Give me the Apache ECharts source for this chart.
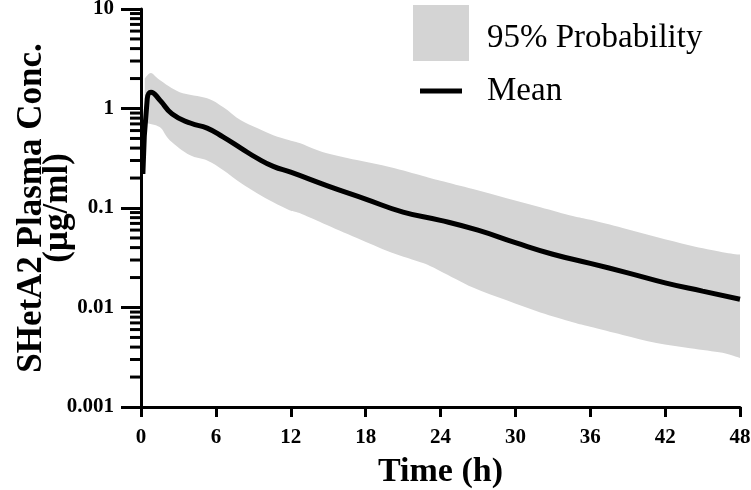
<!DOCTYPE html>
<html>
<head>
<meta charset="utf-8">
<script src="https://cdn.jsdelivr.net/npm/echarts@6/dist/echarts.min.js"></script>
<style>
html,body{margin:0;padding:0;background:#fff;}
#chart{width:751px;height:490px;}
</style>
</head>
<body>
<div id="chart"></div>
<script>
// ---- data ----
const xTicks = [0, 6, 12, 18, 24, 30, 36, 42, 48];
const yTickLabels = ['0.001', '0.01', '0.1', '1', '10'];
const yMinorTicks = [0.002,0.003,0.004,0.005,0.006,0.007,0.008,0.009,
                     0.02,0.03,0.04,0.05,0.06,0.07,0.08,0.09,
                     0.2,0.3,0.4,0.5,0.6,0.7,0.8,0.9,
                     2,3,4,5,6,7,8,9];

const meanTime = [0.15, 0.5, 0.8, 1.5, 2.5, 4.0, 5.3, 6.6, 8.0, 9.3, 10.6, 12, 15, 18, 21, 24, 27, 30, 33, 36, 39, 42, 45, 48];
const meanConc = [0.22, 1.25, 1.46, 1.22, 0.88, 0.71, 0.635, 0.515, 0.40, 0.317, 0.262, 0.229, 0.166, 0.123, 0.091, 0.0752, 0.0598, 0.0448, 0.0343, 0.0278, 0.0223, 0.0177, 0.0146, 0.0121];

const upperTime = [0.3, 0.8, 1.5, 3.1, 5.3, 6.6, 8.0, 9.3, 10.6, 11.9, 12.7, 14.6, 17.3, 20, 22.6, 24, 26.6, 29.3, 32, 34.6, 36, 38.6, 41.3, 44, 46.6, 48];
const upperConc = [2.0, 2.27, 1.93, 1.46, 1.27, 1.03, 0.76, 0.635, 0.54, 0.48, 0.45, 0.364, 0.303, 0.257, 0.21, 0.188, 0.155, 0.125, 0.102, 0.083, 0.076, 0.063, 0.051, 0.042, 0.036, 0.034];

const lowerTime = [0.3, 1.5, 2.3, 3.9, 5.3, 6.6, 8.0, 9.3, 10.6, 11.9, 12.7, 14.6, 17.3, 20, 22.6, 24, 26.6, 29.3, 32, 34.6, 36, 38.6, 41.3, 44, 46.6, 48];
const lowerConc = [0.72, 0.65, 0.48, 0.34, 0.30, 0.24, 0.178, 0.141, 0.114, 0.095, 0.089, 0.070, 0.050, 0.036, 0.028, 0.0232, 0.0159, 0.0118, 0.0089, 0.0071, 0.0064, 0.0053, 0.0044, 0.0039, 0.0035, 0.0031];

const seriesNames = ['95% Probability', 'Mean'];
const xTitle = 'Time (h)';
const yTitle = 'SHetA2 Plasma Conc.\n(µg/ml)';

// ---- chart ----
const FONT = '"Liberation Serif", "Times New Roman", serif';
const chart = echarts.init(document.getElementById('chart'), null, {renderer: 'canvas'});

const meanData = meanTime.map((t, i) => [t, meanConc[i]]);
const minorData = yMinorTicks.map(v => [0, v]);

// Catmull-Rom style smooth path segments through screen points
function smoothSegments(pts, k) {
  let d = '';
  for (let i = 0; i < pts.length - 1; i++) {
    const p0 = pts[i - 1] || pts[i];
    const p1 = pts[i];
    const p2 = pts[i + 1];
    const p3 = pts[i + 2] || p2;
    const c1x = p1[0] + (p2[0] - p0[0]) * k / 6;
    const c1y = p1[1] + (p2[1] - p0[1]) * k / 6;
    const c2x = p2[0] - (p3[0] - p1[0]) * k / 6;
    const c2y = p2[1] - (p3[1] - p1[1]) * k / 6;
    d += ' C' + c1x + ' ' + c1y + ' ' + c2x + ' ' + c2y + ' ' + p2[0] + ' ' + p2[1];
  }
  return d;
}

const option = {
  animation: false,
  backgroundColor: '#ffffff',
  grid: {left: 141, right: 11, top: 9, bottom: 83, containLabel: false, outerBoundsMode: 'none'},
  legend: [
    {
      data: [seriesNames[0]], left: 413, top: 5, padding: 0,
      icon: 'rect', itemWidth: 56, itemHeight: 56,
      formatter: function (name) { return '{s| }\n{a|' + name + '}'; },
      textStyle: {
        fontFamily: FONT, fontSize: 33, color: '#000',
        rich: {
          s: {fontSize: 1, lineHeight: 10, height: 10},
          a: {fontFamily: FONT, fontSize: 33, color: '#000', lineHeight: 38, padding: [0, 0, 0, 13]}
        }
      },
      selectedMode: false
    },
    {
      data: [seriesNames[1]], left: 420, top: 69, padding: 0,
      icon: 'rect', itemWidth: 42, itemHeight: 5,
      textStyle: {fontFamily: FONT, fontSize: 33, color: '#000', lineHeight: 36, padding: [8, 0, 0, 20]},
      selectedMode: false
    }
  ],
  xAxis: {
    type: 'value', min: xTicks[0], max: xTicks[xTicks.length - 1], interval: 6,
    name: xTitle, nameLocation: 'middle', nameGap: 46,
    nameTextStyle: {fontFamily: FONT, fontSize: 34, fontWeight: 'bold', color: '#000', lineHeight: 38},
    axisLine: {show: true, onZero: false, lineStyle: {color: '#000', width: 3}},
    axisTick: {show: true, inside: false, length: 10, lineStyle: {color: '#000', width: 3}},
    axisLabel: {fontFamily: FONT, fontSize: 21, fontWeight: 'bold', color: '#000', margin: 20},
    splitLine: {show: false}
  },
  yAxis: {
    type: 'log', logBase: 10, min: 0.001, max: 10,
    name: yTitle, nameLocation: 'middle', nameGap: 70, nameRotate: 90, nameMoveOverlap: false,
    nameTextStyle: {fontFamily: FONT, fontSize: 35, fontWeight: 'bold', color: '#000', lineHeight: 26},
    axisLine: {show: true, onZero: false, lineStyle: {color: '#000', width: 3}},
    axisTick: {show: true, inside: false, length: 20, lineStyle: {color: '#000', width: 3}},
    axisLabel: {
      fontFamily: FONT, fontSize: 21, fontWeight: 'bold', color: '#000', margin: 27,
      formatter: function (v) {
        const k = Math.round(Math.log10(v)) + 3;
        return yTickLabels[k] !== undefined ? yTickLabels[k] : '';
      }
    },
    splitLine: {show: false}
  },
  series: [
    {
      name: seriesNames[0],
      type: 'custom',
      coordinateSystem: 'cartesian2d',
      itemStyle: {color: '#d4d4d4'},
      data: [[24, 0.1]],
      encode: {x: 0, y: 1},
      clip: false,
      z: 1,
      renderItem: function (params, api) {
        const up = upperTime.map((t, i) => api.coord([t, upperConc[i]]));
        const lo = lowerTime.map((t, i) => api.coord([t, lowerConc[i]])).reverse();
        let d = 'M' + up[0][0] + ' ' + up[0][1] + smoothSegments(up, 1);
        d += ' L' + lo[0][0] + ' ' + lo[0][1] + smoothSegments(lo, 1) + ' Z';
        return {type: 'path', shape: {pathData: d}, style: {fill: '#d4d4d4', stroke: null}};
      }
    },
    {
      name: seriesNames[1],
      type: 'line',
      data: meanData,
      showSymbol: false,
      smooth: 0.5,
      color: '#000',
      lineStyle: {color: '#000', width: 5},
      z: 3
    },
    {
      name: 'minorTicks',
      type: 'custom',
      coordinateSystem: 'cartesian2d',
      data: minorData,
      encode: {x: 0, y: 1},
      clip: false,
      silent: true,
      z: 4,
      renderItem: function (params, api) {
        const p = api.coord([api.value(0), api.value(1)]);
        return {type: 'line', shape: {x1: p[0] - 11, y1: p[1], x2: p[0], y2: p[1]}, style: {stroke: '#000', lineWidth: 3}};
      }
    }
  ]
};
chart.setOption(option);
</script>
</body>
</html>
